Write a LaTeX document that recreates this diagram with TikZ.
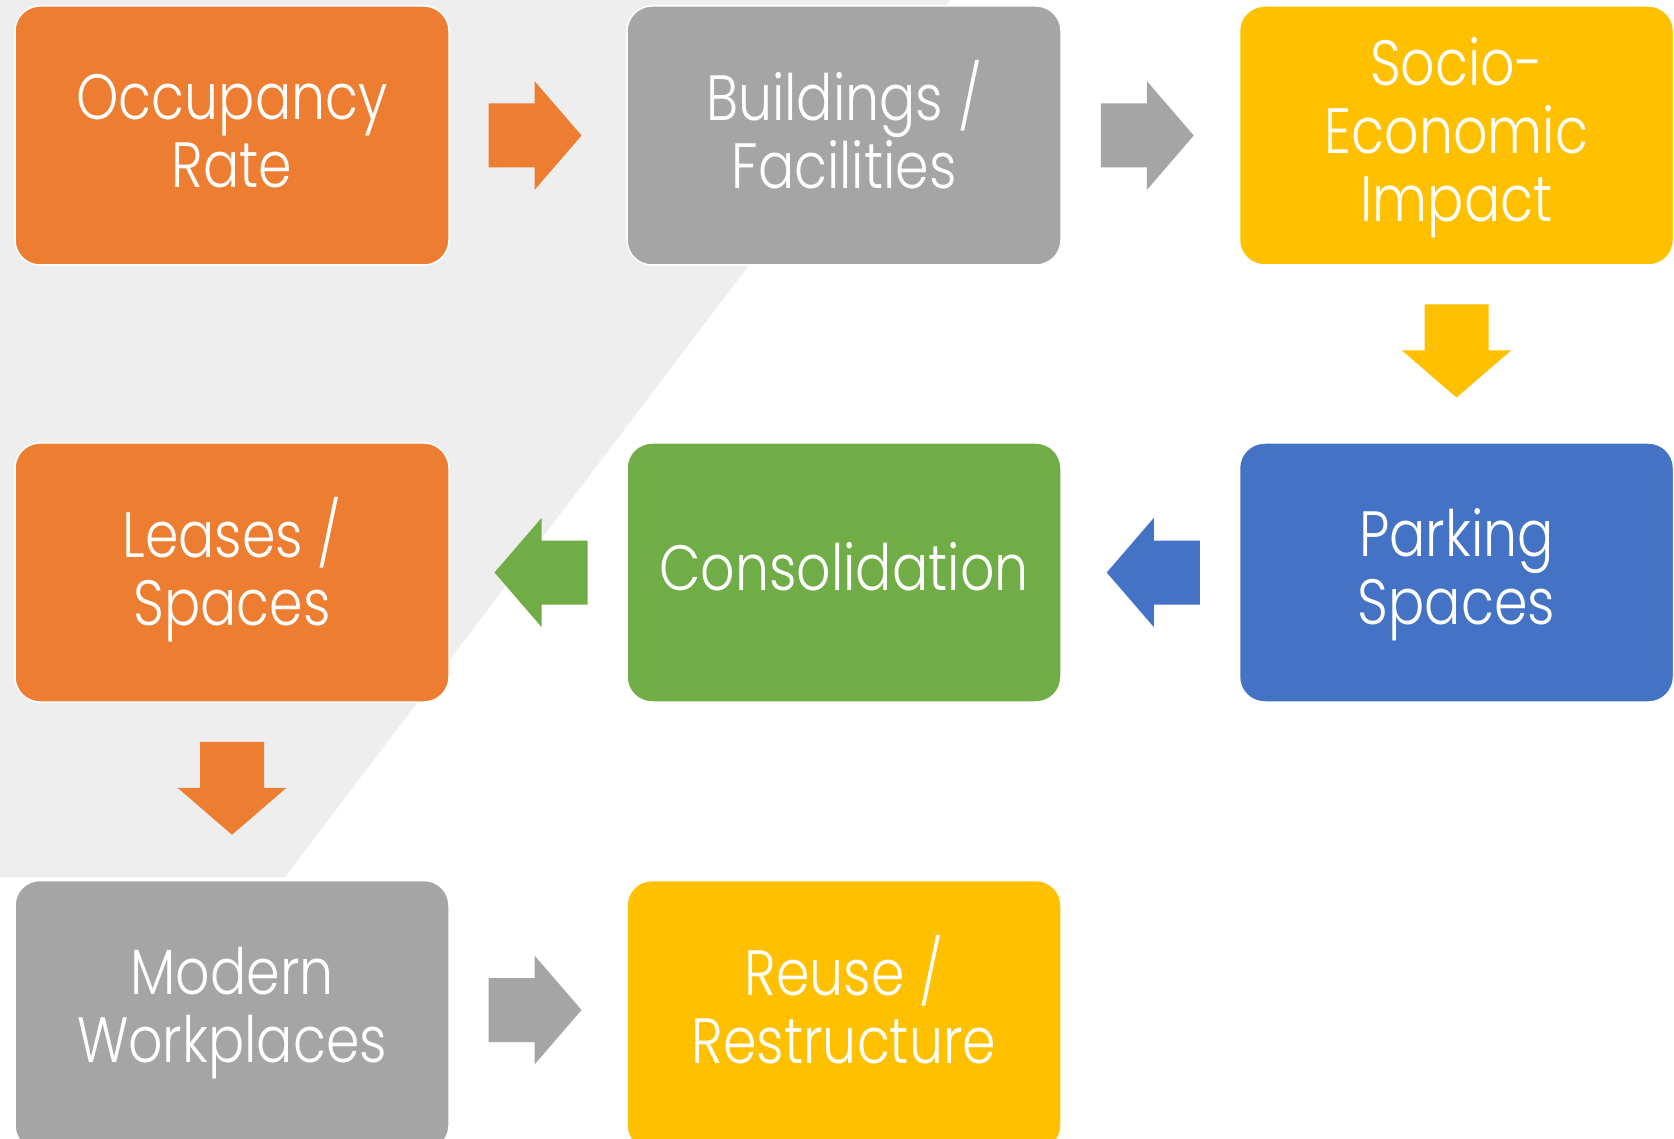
\documentclass[tikz,border=0pt]{standalone}
\usepackage{fontspec}
\setmainfont{Poppins}[UprightFont=* Light, FakeStretch=0.84]
\usetikzlibrary{calc}
\definecolor{cOrange}{HTML}{ED7D31}
\definecolor{cGray}{HTML}{A5A5A5}
\definecolor{cYellow}{HTML}{FFC000}
\definecolor{cBlue}{HTML}{4472C4}
\definecolor{cGreen}{HTML}{70AD47}
\definecolor{cBg}{HTML}{EEEEEE}
\newcommand{\sttop}{\rule{0pt}{58pt}}
\newcommand{\stbot}[1][22pt]{\rule[-#1]{0pt}{#1}}
\tikzset{
  box/.style={rounded corners=25pt, draw=white, line width=1.5pt,
    minimum width=434pt, minimum height=259pt, inner sep=0pt,
    text=white, align=center, font=\fontsize{64}{68}\selectfont},
  lastrow/.style={minimum height=270pt},
  barrow/.pic={\fill[pic actions] (-46.5,-32) -- (-0.5,-32) -- (-0.5,-54.5)
     -- (46.5,0) -- (-0.5,54.5) -- (-0.5,32) -- (-46.5,32) -- cycle;}
}
\begin{document}
\begin{tikzpicture}[x=1pt,y=-1pt]
\useasboundingbox (0,0) rectangle (1674,1139);
\fill[white] (0,0) rectangle (1674,1139);
\fill[cBg] (0,0) -- (950,0) -- (285,877) -- (0,877) -- cycle;
% nodes
\node[box, fill=cOrange] (occ) at (232,135.5) {\sttop Occupancy\\Rate\stbot};
\node[box, fill=cGray]   (bld) at (844,135.5) {\sttop Buildings /\\Facilities\stbot};
\node[box, fill=cYellow] (soc) at (1456.5,135.5) {\sttop Socio-\\Economic\\Impact\stbot};
\node[box, fill=cOrange] (lea) at (232,572.5) {\sttop Leases /\\Spaces\stbot};
\node[box, fill=cGreen]  (con) at (844,572.5) {\sttop Consolidation\stbot};
\node[box, fill=cBlue]   (par) at (1456.5,572.5) {\sttop Parking\\Spaces\stbot};
\node[box, lastrow, fill=cGray]   (mod) at (232,1015.5) {\sttop Modern\\Workplaces\stbot[33pt]};
\node[box, lastrow, fill=cYellow] (reu) at (844,1015.5) {\sttop Reuse /\\Restructure\stbot[33pt]};
% block arrows
\path ($(occ.east)!0.5!(bld.west)+(-3,0)$) pic[fill=cOrange]{barrow};
\path ($(bld.east)!0.5!(soc.west)+(-3,0)$) pic[fill=cGray]{barrow};
\path ($(soc.south)!0.5!(par.north)+(0,-3)$) pic[fill=cYellow, rotate=-90]{barrow};
\path ($(par.west)!0.5!(con.east)+(3,0)$) pic[fill=cBlue, rotate=180]{barrow};
\path ($(con.west)!0.5!(lea.east)+(3,0)$) pic[fill=cGreen, rotate=180]{barrow};
\path ($(lea.south)!0.5!(mod.north)+(0,-3)$) pic[fill=cOrange, rotate=-90]{barrow};
\path ($(mod.east)!0.5!(reu.west)+(-3,-5.5)$) pic[fill=cGray]{barrow};
\end{tikzpicture}
\end{document}
